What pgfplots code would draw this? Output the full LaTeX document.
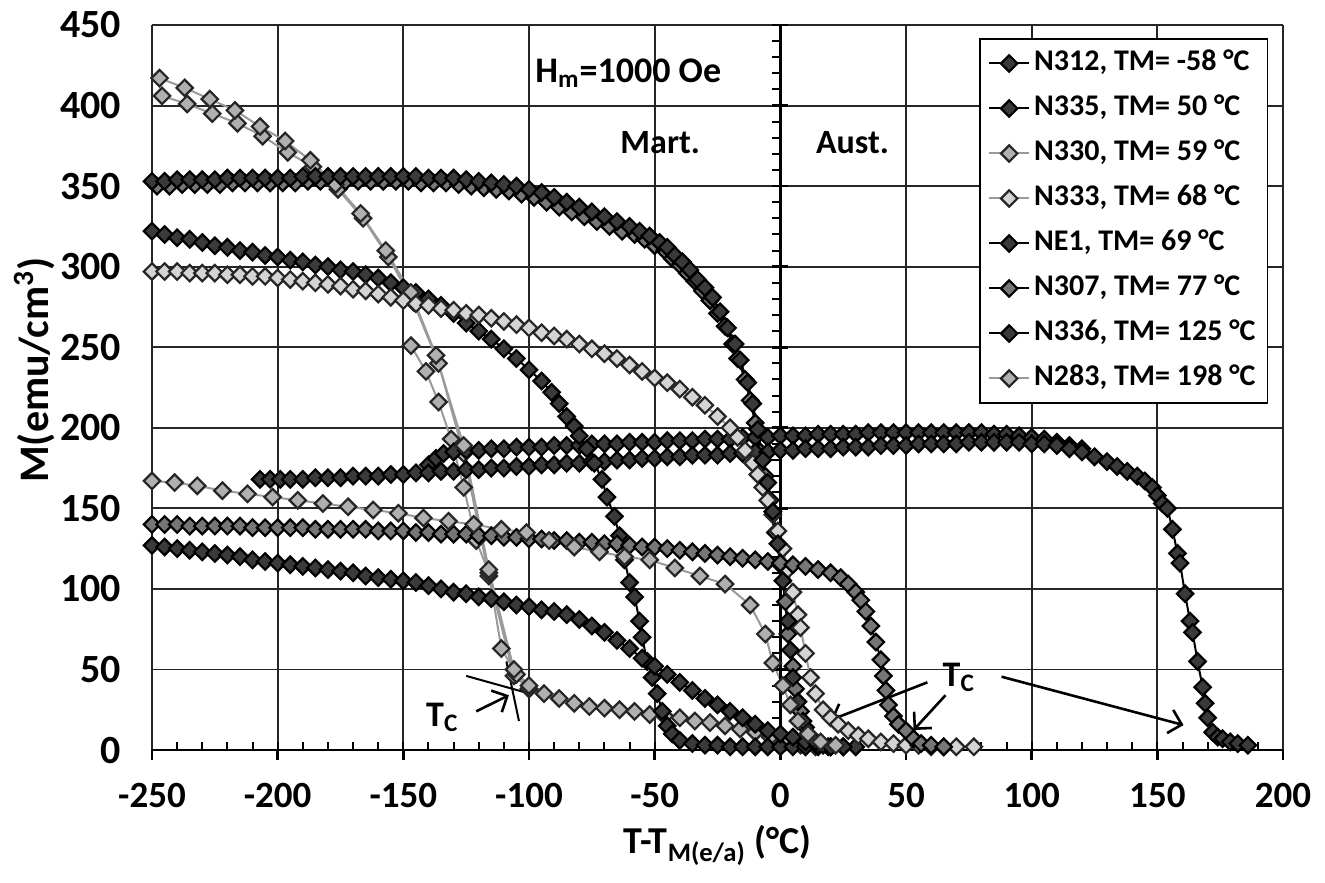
\documentclass[border=0pt]{standalone}
\usepackage{pgfplots}
\pgfplotsset{compat=1.18}
\usepackage{fontspec}
\setmainfont{Carlito}
\usetikzlibrary{arrows.meta}
\definecolor{dkfill}{HTML}{3A3A3A}
\definecolor{mdfill}{HTML}{767676}
\definecolor{ltfill}{HTML}{B0B0B0}
\definecolor{whfill}{HTML}{D4D4D4}
\definecolor{ltline}{HTML}{9A9A9A}
\pgfplotsset{
 sdark/.style={draw=black, line width=1pt, mark=square*, mark size=2.9pt, mark options={rotate=45, solid, draw=black, fill=dkfill, line width=1.1pt}},
 smed/.style={draw=black, line width=1pt, mark=square*, mark size=2.9pt, mark options={rotate=45, solid, draw=black, fill=mdfill, line width=1.1pt}},
 slight/.style={draw=ltline, line width=1pt, mark=square*, mark size=2.9pt, mark options={rotate=45, solid, draw=black!85, fill=ltfill, line width=1.1pt}},
 swhite/.style={draw=ltline, line width=1pt, mark=square*, mark size=2.9pt, mark options={rotate=45, solid, draw=black!85, fill=whfill, line width=1.1pt}},
}
\begin{document}
\begin{tikzpicture}
\begin{axis}[
 scale only axis, width=565.5pt, height=362.5pt,
 xmin=-250, xmax=200, ymin=0, ymax=450,
 xtick={-250,-200,...,200}, ytick={0,50,...,450},
 xticklabels={-250,-200,-150,-100,-50,0,50,100,150,200},
 yticklabels={0,50,100,150,200,250,300,350,400,450},
 tick style={draw=none},
 xticklabel style={font=\bfseries\fontsize{18.5}{20}\selectfont, yshift=-13pt},
 yticklabel style={font=\bfseries\fontsize{20}{22}\selectfont, xshift=-12pt},
 grid=major, major grid style={line width=0.95pt, color=black!85},
 axis line style={draw=none},
 clip=false,
 xlabel={T-T\textsubscript{M(e/a)} (°C)},
 ylabel={M(emu/cm\textsuperscript{3})},
 xlabel style={font=\bfseries\fontsize{19}{21}\selectfont, at={(0.5,-0.131)}, anchor=center},
 ylabel style={font=\bfseries\fontsize{21}{23}\selectfont, at={(-0.1035,0.524)}, anchor=center, rotate=0},
 legend style={at={(0.987,0.982)}, anchor=north east, draw=black, line width=0.9pt, fill=white,
   font=\bfseries\fontsize{15}{17}\selectfont, row sep=4pt, inner xsep=4pt, inner ysep=3pt,
   nodes={inner sep=2pt, text height=11pt, text depth=3.5pt}},
 legend cell align=left,
 legend image code/.code={\draw[mark repeat=2,mark phase=2] plot coordinates {(0pt,0pt) (10pt,0pt) (20pt,0pt)};},
]
% ---- extra curves (not in legend)
\addplot[slight, forget plot] coordinates {(-246,406) (-236,401) (-226,395) (-216,389) (-206,381) (-196,371) (-186,362) (-176,348) (-166,330) (-156,306) (-146,278) (-136,240) (-126,184) (-116,108) (-106,46) (-100,38)};
\addplot[slight, forget plot] coordinates {(-147,251) (-141,235) (-136,216) (-131,193) (-126,163) (-121,130) (-116,110) (-111,63) (-105,47) (-100,38) (-94,35) (-88,32) (-82,29) (-76,27) (-70,26) (-64,25) (-58,24) (-52,22) (-46,21) (-40,20) (-34,18) (-28,17) (-22,15) (-16,13) (-10,11) (-4,8) (2,5) (8,3) (14,2)};
\addplot[smed, forget plot] coordinates {(-248,350) (-243,350) (-238,351) (-233,351) (-228,351) (-223,351) (-218,352) (-213,352) (-208,352) (-203,352) (-198,352) (-193,352) (-188,353) (-183,353) (-178,353) (-173,353) (-168,353) (-163,353) (-158,353) (-153,353) (-148,353) (-143,352) (-138,352) (-133,352) (-128,351) (-123,350) (-118,349) (-113,348) (-108,347) (-103,345) (-98,343) (-93,340) (-88,337) (-83,334) (-78,331) (-73,328) (-68,325) (-63,322) (-58,320) (-54,317) (-50,313) (-46,310) (-43,305) (-40,301) (-37,296) (-34,291) (-31,285) (-28,279) (-25,271) (-22,263) (-19,252) (-17,243) (-14,230) (-12,217) (-10,203) (-8,185) (-6,170) (-4,155) (-2,135) (0,115) (2,92) (3,72) (5,52) (6,38) (8,24) (10,14) (12,8) (15,4) (19,2)};
\addplot[sdark, forget plot] coordinates {(-140,177) (-137,181) (-134,184) (-130,185) (-125,186) (-120,186) (-115,187) (-110,187) (-105,188) (-100,188) (-95,188) (-90,189) (-85,189) (-80,189) (-75,190) (-70,190) (-65,190) (-60,191) (-55,191) (-50,191) (-45,192) (-40,192) (-35,192) (-30,193) (-25,193) (-20,193) (-15,194) (-10,194) (-5,194) (0,195) (5,195) (10,195) (15,196) (20,196) (25,196) (30,196) (35,197) (40,197) (45,197) (50,197) (55,197) (60,197) (65,197) (70,197) (75,197) (80,197) (85,196) (90,196) (95,195) (100,194) (105,193) (110,191) (115,189) (120,187)};
% ---- legend series
% N312
\addplot[sdark] coordinates {(-207,168) (-203,168) (-199,168) (-195,168) (-190,168) (-185,169) (-180,169) (-175,169) (-170,170) (-165,170) (-160,170) (-155,171) (-150,171) (-145,172) (-140,172) (-135,173) (-130,173) (-125,174) (-120,174) (-115,175) (-110,175) (-105,176) (-100,176) (-95,177) (-90,177) (-85,178) (-80,178) (-75,179) (-70,179) (-65,180) (-60,180) (-55,181) (-50,181) (-45,182) (-40,182) (-35,183) (-30,183) (-25,183) (-20,184) (-15,184) (-10,185) (-5,185) (0,186) (5,186) (10,187) (15,187) (20,187) (25,188) (30,188) (35,188) (40,189) (45,189) (50,189) (55,190) (60,190) (65,190) (70,190) (75,191) (80,191) (85,191) (90,191) (95,191) (100,190) (105,190) (110,189) (115,187) (120,185) (125,182) (130,179) (134,176) (138,173) (142,170) (145,167) (148,163) (150,158) (152,153) (154,150) (156,137) (158,122) (159,116) (161,97) (163,80) (164,73) (166,55) (168,39) (169,29) (170,20) (172,11) (174,8) (176,7) (179,5) (182,4) (186,3)};
\addlegendentry{N312, TM= -58 °C}
% N335
\addplot[sdark] coordinates {(-250,322) (-245,320) (-240,318) (-235,317) (-230,315) (-225,313) (-220,312) (-215,310) (-210,309) (-205,307) (-200,306) (-195,304) (-190,303) (-185,301) (-180,300) (-175,298) (-170,297) (-165,295) (-160,293) (-155,290) (-150,287) (-145,284) (-140,280) (-135,276) (-130,271) (-125,265) (-120,260) (-115,255) (-110,249) (-105,243) (-100,236) (-95,229) (-91,222) (-88,215) (-85,207) (-82,201) (-80,195) (-77,187) (-74,178) (-71,168) (-69,157) (-66,145) (-64,133) (-62,118) (-60,104) (-58,95) (-56,80) (-55,70) (-53,55) (-51,45) (-49,35) (-47,24) (-45,15) (-43,10) (-40,6) (-35,4) (-30,3) (-25,3) (-20,2) (-15,2) (-10,2) (-5,2) (0,2) (5,2) (10,2) (15,2) (20,2) (25,2) (30,2)};
\addlegendentry{N335, TM= 50 °C}
% N330
\addplot[slight] coordinates {(-247,417) (-237,411) (-227,404) (-217,397) (-207,387) (-197,378) (-187,366) (-177,351) (-167,333) (-157,310) (-147,284) (-137,245) (-126,189) (-116,112) (-106,50) (-100,40)};
\addlegendentry{N330, TM= 59 °C}
% N333
\addplot[swhite] coordinates {(-250,297) (-245,297) (-240,297) (-235,296) (-230,296) (-225,296) (-220,295) (-215,295) (-210,294) (-205,294) (-200,293) (-195,292) (-190,291) (-185,290) (-180,289) (-175,288) (-170,286) (-165,285) (-160,283) (-155,281) (-150,279) (-145,277) (-140,276) (-135,274) (-130,273) (-125,271) (-120,270) (-115,268) (-110,266) (-105,264) (-100,262) (-95,259) (-90,257) (-85,255) (-80,252) (-75,249) (-70,246) (-65,243) (-60,239) (-55,235) (-50,231) (-45,228) (-40,224) (-35,219) (-30,214) (-25,207) (-20,200) (-17,194) (-14,186) (-11,178) (-9,171) (-7,163) (-5,155) (-3,146) (-1,136) (1,125) (3,112) (5,98) (7,84) (8,76) (10,60) (12,45) (14,35) (17,25) (20,20) (23,16) (27,12) (31,9) (35,7) (40,5) (45,4) (50,3) (55,3) (60,2) (65,2) (70,2) (77,2)};
\addlegendentry{N333, TM= 68 °C}
% NE1
\addplot[sdark] coordinates {(-250,127) (-245,126) (-240,125) (-235,124) (-230,123) (-225,122) (-220,121) (-215,120) (-210,118) (-205,117) (-200,116) (-195,115) (-190,114) (-185,113) (-180,112) (-175,111) (-170,110) (-165,108) (-160,107) (-155,106) (-150,105) (-145,104) (-140,102) (-135,100) (-130,98) (-125,97) (-120,95) (-115,94) (-110,92) (-105,90) (-100,89) (-95,87) (-90,86) (-85,84) (-80,81) (-75,77) (-70,73) (-65,68) (-60,63) (-55,57) (-50,52) (-45,47) (-40,42) (-35,37) (-30,32) (-25,28) (-20,24) (-15,20) (-10,16) (-5,12) (0,10) (5,8) (10,5) (15,3) (20,2) (25,2)};
\addlegendentry{NE1, TM= 69 °C}
% N307
\addplot[smed] coordinates {(-250,140) (-245,140) (-240,140) (-235,139) (-230,139) (-225,139) (-220,139) (-215,139) (-210,138) (-205,138) (-200,138) (-195,138) (-190,138) (-185,137) (-180,137) (-175,137) (-170,137) (-165,137) (-160,136) (-155,136) (-150,136) (-145,135) (-140,135) (-135,134) (-130,134) (-125,134) (-120,133) (-115,133) (-110,132) (-105,132) (-100,131) (-95,131) (-90,130) (-85,130) (-80,129) (-75,129) (-70,128) (-65,128) (-60,127) (-55,126) (-50,126) (-45,125) (-40,124) (-35,123) (-30,122) (-25,121) (-20,120) (-15,119) (-10,118) (-5,117) (0,116) (5,115) (10,114) (15,112) (20,110) (24,107) (27,103) (30,98) (32,93) (34,86) (36,77) (38,67) (40,56) (41,46) (42,37) (43,28) (45,21) (47,16) (50,12) (53,7) (56,4) (60,3) (65,2)};
\addlegendentry{N307, TM= 77 °C}
% N336
\addplot[sdark] coordinates {(-250,353) (-245,353) (-240,354) (-235,354) (-230,354) (-225,354) (-220,355) (-215,355) (-210,355) (-205,355) (-200,355) (-195,355) (-190,356) (-185,356) (-180,356) (-175,356) (-170,356) (-165,356) (-160,356) (-155,356) (-150,356) (-145,356) (-140,355) (-135,355) (-130,355) (-125,354) (-120,353) (-115,352) (-110,351) (-105,350) (-100,348) (-95,346) (-90,343) (-85,340) (-80,337) (-75,334) (-70,331) (-65,328) (-60,325) (-56,322) (-52,319) (-48,315) (-45,312) (-42,307) (-39,303) (-36,298) (-33,292) (-30,287) (-27,281) (-24,272) (-21,262) (-18,252) (-16,242) (-13,228) (-11,215) (-9,199) (-7,180) (-5,166) (-3,148) (-1,128) (1,105) (3,80) (4,62) (5,45) (7,30) (9,18) (11,10) (14,5) (17,3) (20,2)};
\addlegendentry{N336, TM= 125 °C}
% N283
\addplot[slight] coordinates {(-250,167) (-241,166) (-232,164) (-222,161) (-212,159) (-202,157) (-192,155) (-182,153) (-172,151) (-162,149) (-152,147) (-142,144) (-132,142) (-122,140) (-111,137) (-101,135) (-92,130) (-82,126) (-72,123) (-62,120) (-52,118) (-42,113) (-32,108) (-22,103) (-12,90) (-6,72) (-3,54) (1,40) (4,28) (7,18) (11,10) (16,5) (22,3)};
\addlegendentry{N283, TM= 198 °C}
% ---- axis lines through zero
\draw[line width=1.3pt] (axis cs:-250,0) -- (axis cs:200,0);
\draw[line width=1.3pt] (axis cs:0,0) -- (axis cs:0,450);
\pgfplotsinvokeforeach{-240,-230,...,190}{\draw[line width=1pt] (axis cs:#1,0) -- ++(0pt,4pt);}
\pgfplotsinvokeforeach{-250,-200,...,200}{\draw[line width=1.3pt] (axis cs:#1,0) -- ++(0pt,-5pt);}
\pgfplotsinvokeforeach{10,20,...,440}{\draw[line width=1pt] (axis cs:0,#1) -- ++(-4pt,0pt);}
\pgfplotsinvokeforeach{50,100,...,450}{\draw[line width=1.3pt] (axis cs:0,#1) ++(-4pt,0pt) -- ++(8pt,0pt);}
% ---- annotations
\node[font=\bfseries\fontsize{18}{20}\selectfont] at (axis cs:-60.5,420) {H\textsubscript{m}=1000 Oe};
\node[font=\bfseries\fontsize{17}{20}\selectfont] at (axis cs:-47.8,377) {Mart.};
\node[font=\bfseries\fontsize{17}{20}\selectfont] at (axis cs:28.7,377) {Aust.};
\node[font=\bfseries\fontsize{18}{20}\selectfont] at (axis cs:-134.5,20) {T\textsubscript{C}};
\node[font=\bfseries\fontsize{18}{20}\selectfont] at (axis cs:71,45) {T\textsubscript{C}};
\draw[line width=1.3pt, -{Straight Barb[length=6pt]}] (axis cs:-121,24) -- (axis cs:-108,34);
\draw[line width=1pt] (axis cs:-125,46) -- (axis cs:-102,36);
\draw[line width=1pt] (axis cs:-109,55) -- (axis cs:-104,18);
\draw[line width=1.3pt, -{Straight Barb[length=6pt]}] (axis cs:58.5,42) -- (axis cs:20,18.6);
\draw[line width=1.3pt, -{Straight Barb[length=6pt]}] (axis cs:65.7,34) -- (axis cs:53,12.4);
\draw[line width=1.3pt, -{Straight Barb[length=6pt]}] (axis cs:88,45.5) -- (axis cs:160.4,15.5);
\coordinate (bbsw) at (rel axis cs:-0.1344,-0.1821);
\coordinate (bbne) at (rel axis cs:1.0371,1.0345);
\end{axis}
\pgfresetboundingbox
\path (bbsw) rectangle (bbne);
\end{tikzpicture}
\end{document}
